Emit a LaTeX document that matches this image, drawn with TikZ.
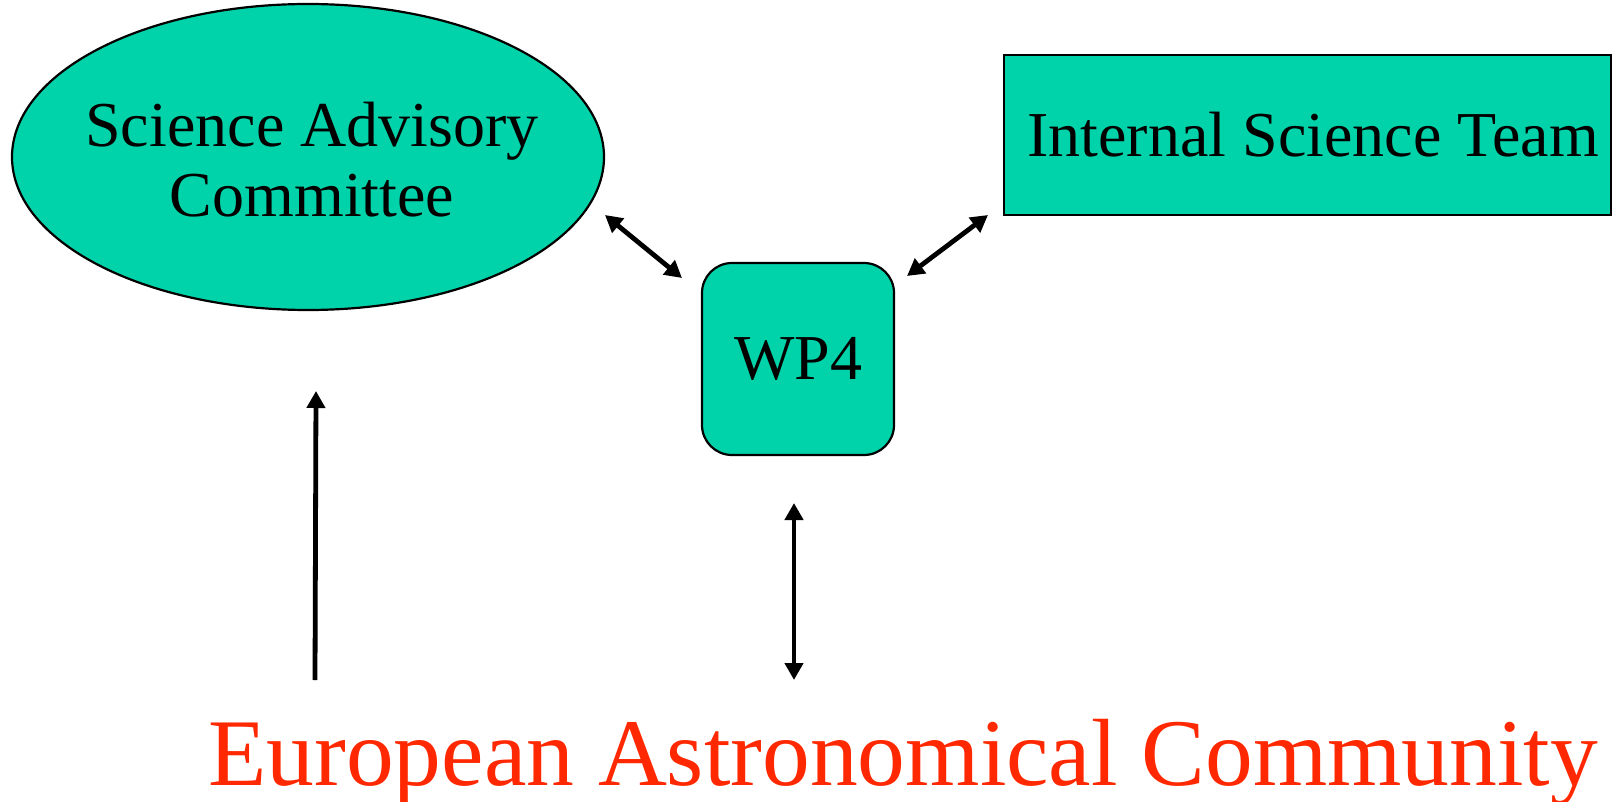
\documentclass[tikz,border=0pt]{standalone}
\usepackage{fontspec}
\setmainfont{Liberation Serif}
\usetikzlibrary{arrows.meta,shapes.geometric}
\definecolor{boxfill}{RGB}{0,211,170}
\definecolor{commred}{RGB}{255,40,0}
\begin{document}
\begin{tikzpicture}[x=1pt,y=-1pt,
  boxtext/.style={font=\fontsize{64}{70}\selectfont, text=black},
  filled/.style={draw=black, line width=2.2pt, fill=boxfill},
  link/.style={line width=4.8pt, -{Triangle[length=17pt,width=18pt]}},
  dlink/.style={line width=4.8pt, {Triangle[length=17pt,width=18pt]}-{Triangle[length=17pt,width=18pt]}}]
\useasboundingbox (0,0) rectangle (1613,802);
\node[filled, ellipse, minimum width=592pt, minimum height=306pt, inner sep=0pt] (sac) at (308,157) {};
\node[boxtext, align=center, inner sep=0pt] (sactext) at (312,160) {Science Advisory\\Committee};
\node[filled, rectangle, minimum width=607pt, minimum height=160pt, inner sep=0pt] (ist) at (1307.5,135) {};
\node[boxtext, inner sep=0pt] (isttext) at (1313,135) {Internal Science Team};
\node[filled, rectangle, rounded corners=30pt, minimum width=192pt, minimum height=192pt, inner sep=0pt, boxtext] (wp4) at (798,359) {WP4};
\node[anchor=base west, inner sep=0pt, font=\fontsize{95.5}{104}\selectfont, text=commred] (eac) at (208,785) {European Astronomical Community};
\coordinate (a1s) at (605,215);
\coordinate (a1e) at (682,278);
\coordinate (a2s) at (907,276);
\coordinate (a2e) at (988,215);
\coordinate (a3s) at (794,503);
\coordinate (a3e) at (794,680);
\coordinate (a4s) at (315,680);
\coordinate (a4e) at (316,391);
\draw[dlink] (a1s) -- (a1e);
\draw[dlink] (a2s) -- (a2e);
\draw[dlink] (a3s) -- (a3e);
\draw[link] (a4s) -- (a4e);
\end{tikzpicture}
\end{document}
